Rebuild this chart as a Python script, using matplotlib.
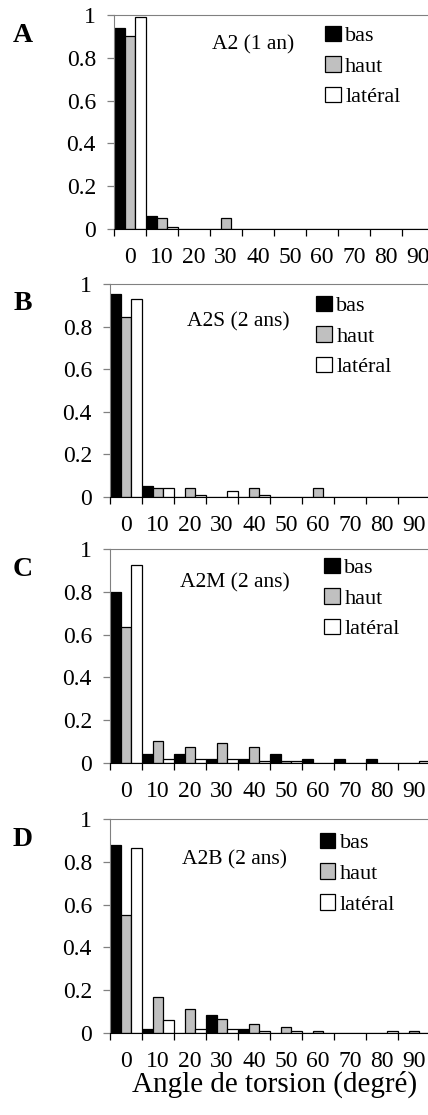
import numpy as np
import matplotlib
matplotlib.use('Agg')
import matplotlib.pyplot as plt
from matplotlib.patches import Patch

# Données : fréquence relative par classe d'angle de torsion
angles = [0, 10, 20, 30, 40, 50, 60, 70, 80, 90]
series_names = ['bas', 'haut', 'latéral']

bas_A = [0.94, 0.06, 0, 0, 0, 0, 0, 0, 0, 0]
haut_A = [0.90, 0.05, 0, 0.05, 0, 0, 0, 0, 0, 0]
lat_A = [0.99, 0.01, 0, 0, 0, 0, 0, 0, 0, 0]

bas_B = [0.955, 0.05, 0, 0, 0, 0, 0, 0, 0, 0]
haut_B = [0.845, 0.04, 0.04, 0, 0.04, 0, 0.04, 0, 0, 0]
lat_B = [0.93, 0.04, 0.01, 0.03, 0.01, 0, 0, 0, 0, 0]

bas_C = [0.80, 0.04, 0.04, 0.02, 0.02, 0.04, 0.02, 0.02, 0.02, 0]
haut_C = [0.635, 0.105, 0.075, 0.095, 0.075, 0.01, 0, 0, 0, 0]
lat_C = [0.925, 0.02, 0.02, 0.02, 0.01, 0.01, 0, 0, 0, 0.01]

bas_D = [0.88, 0.02, 0, 0.085, 0.02, 0, 0, 0, 0, 0]
haut_D = [0.55, 0.17, 0.11, 0.065, 0.04, 0.03, 0.01, 0, 0, 0.01]
lat_D = [0.865, 0.06, 0.02, 0.02, 0.01, 0.01, 0, 0, 0.01, 0]

panel_letters = ['A', 'B', 'C', 'D']
panel_titles = ['A2 (1 an)', 'A2S (2 ans)', 'A2M (2 ans)', 'A2B (2 ans)']
xlabel = 'Angle de torsion (degré)'

plt.rcParams['font.family'] = 'serif'
plt.rcParams['font.serif'] = ['Liberation Serif', 'DejaVu Serif']

W, H = 428, 1115
fig = plt.figure(figsize=(W / 100, H / 100), dpi=100)

colors = ['black', '#c0c0c0', 'white']
# (gauche, haut de l'axe y=1, bas de l'axe y=0) en pixels
boxes = [(114, 15, 229), (110, 284, 497), (110, 549, 763), (110, 819, 1033)]
title_pos = [(0.435, 0.86), (0.40, 0.82), (0.39, 0.84), (0.39, 0.81)]
legend_pos = [(0.66, 0.95), (0.645, 0.945), (0.67, 0.96), (0.655, 0.935)]
data = [(bas_A, haut_A, lat_A), (bas_B, haut_B, lat_B),
        (bas_C, haut_C, lat_C), (bas_D, haut_D, lat_D)]

x = np.arange(len(angles))
w = 1 / 3
for i, (left, top, bottom) in enumerate(boxes):
    ax = fig.add_axes([left / W, 1 - bottom / H, 320 / W, (bottom - top) / H])
    for j, vals in enumerate(data[i]):
        ax.bar(x + (j - 1) * w, vals, width=w, color=colors[j],
               edgecolor='black', linewidth=0.9, zorder=2)
    ax.set_xlim(-0.5, len(angles) - 0.5)
    ax.set_ylim(0, 1)
    ax.set_yticks([0, 0.2, 0.4, 0.6, 0.8, 1])
    ax.set_yticklabels(['0', '0.2', '0.4', '0.6', '0.8', '1'])
    ax.set_xticks(x)
    ax.set_xticklabels([str(a) for a in angles])
    ax.set_xticks(np.arange(len(angles) + 1) - 0.5, minor=True)
    ax.tick_params(axis='x', which='major', length=0, pad=13, labelsize=17)
    ax.tick_params(axis='x', which='minor', length=5, width=0.9,
                   color='black', direction='out')
    ax.tick_params(axis='y', length=5, width=0.9, color='#808080',
                   direction='out', pad=8, labelsize=17)
    ax.spines['right'].set_visible(False)
    ax.spines['top'].set_color('#808080')
    ax.spines['left'].set_color('#808080')
    ax.spines['bottom'].set_color('black')
    ax.spines['bottom'].set_zorder(3)
    ax.text(*title_pos[i], panel_titles[i], transform=ax.transAxes,
            ha='center', va='center', fontsize=15.5)
    handles = [Patch(facecolor=c, edgecolor='black', linewidth=0.9)
               for c in colors]
    ax.legend(handles, series_names, loc='upper left',
              bbox_to_anchor=legend_pos[i], frameon=False, fontsize=16,
              handlelength=0.7, handleheight=0.7, handletextpad=0.2,
              labelspacing=0.45, borderpad=0, borderaxespad=0)
    fig.text(23 / W, 1 - (top + 20) / H, panel_letters[i], ha='center',
             va='center', fontsize=20, fontweight='bold')

fig.text(275 / W, 1 - 1084 / H, xlabel, ha='center', va='center',
         fontsize=21)

fig.savefig('out.png', dpi=100)
